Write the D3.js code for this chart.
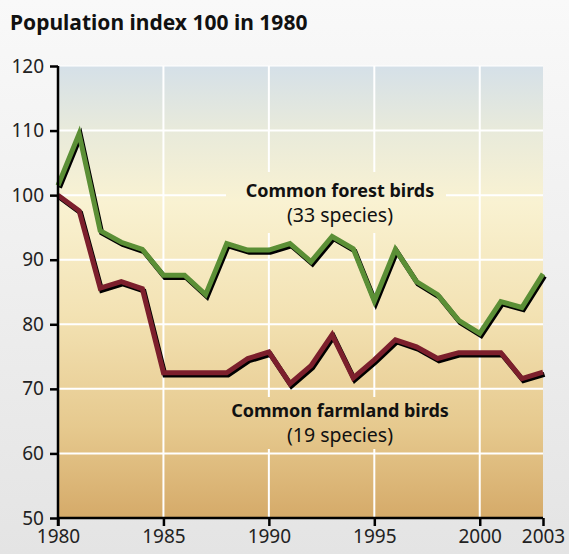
<!DOCTYPE html>
<html>
<head>
<meta charset="utf-8">
<script src="https://cdn.jsdelivr.net/npm/d3@7"></script>
<style>
  html, body { margin: 0; padding: 0; }
  body { width: 569px; height: 554px; overflow: hidden; }
  text { font-family: "Noto Sans", sans-serif; }
</style>
</head>
<body>
<svg id="chart" width="569" height="554"></svg>
<script>
"use strict";

const years = d3.range(1980, 2004);
const forestBirds = [101.5, 109.5, 94.5, 92.7, 91.6, 87.6, 87.6, 84.6, 92.5, 91.5, 91.5, 92.5,
  89.7, 93.6, 91.7, 83.6, 91.6, 86.6, 84.6, 80.6, 78.6, 83.5, 82.6, 87.8];
const farmlandBirds = [100, 97.6, 85.6, 86.6, 85.5, 72.5, 72.5, 72.5, 72.5, 74.7, 75.7, 70.8,
  73.6, 78.4, 71.7, 74.5, 77.6, 76.5, 74.7, 75.6, 75.6, 75.6, 71.6, 72.6];
const xTicks = [1980, 1985, 1990, 1995, 2000, 2003];
const yTicks = [50, 60, 70, 80, 90, 100, 110, 120];

const svg = d3.select("#chart");
const plotLeft = 58, plotRight = 543, plotTop = 66, plotBottom = 518;

const x = d3.scaleLinear().domain([1980, 2003]).range([plotLeft, plotRight]);
const y = d3.scaleLinear().domain([50, 120]).range([plotBottom, plotTop]);

const defs = svg.append("defs");

const bg = defs.append("linearGradient").attr("id", "bg")
  .attr("x1", 0).attr("y1", 0).attr("x2", 0).attr("y2", 1);
bg.append("stop").attr("offset", 0).attr("stop-color", "#f9f9f9");
bg.append("stop").attr("offset", 1).attr("stop-color", "#e4e4e4");

const plotFill = defs.append("linearGradient").attr("id", "plotFill")
  .attr("gradientUnits", "userSpaceOnUse")
  .attr("x1", 0).attr("y1", plotTop).attr("x2", 0).attr("y2", plotBottom);
[[0, "#d5e0e8"], [0.14, "#e8eadb"], [0.3, "#f9f2d2"], [0.55, "#f3e2b3"],
 [0.8, "#e6c98e"], [1, "#d5aa69"]].forEach(([o, c]) =>
  plotFill.append("stop").attr("offset", o).attr("stop-color", c));

svg.append("rect").attr("width", 569).attr("height", 554).attr("fill", "url(#bg)");

svg.append("text")
  .attr("x", 10).attr("y", 30)
  .attr("font-size", 21).attr("font-weight", "bold")
  .attr("font-family", "Liberation Sans, sans-serif")
  .attr("fill", "#111")
  .text("Population index 100 in 1980");

svg.append("rect")
  .attr("x", plotLeft).attr("y", plotTop)
  .attr("width", plotRight - plotLeft).attr("height", plotBottom - plotTop)
  .attr("fill", "url(#plotFill)");

// grid
svg.append("g").selectAll("line")
  .data(yTicks.slice(1))
  .join("line")
  .attr("x1", plotLeft).attr("x2", plotRight)
  .attr("y1", (d) => y(d)).attr("y2", (d) => y(d))
  .attr("stroke", "#fff").attr("stroke-width", 2)
  .attr("stroke-opacity", (d) => (d === 120 ? 0.5 : 1));

svg.append("g").selectAll("line")
  .data(xTicks.slice(1, -1))
  .join("line")
  .attr("x1", (d) => x(d)).attr("x2", (d) => x(d))
  .attr("y1", plotTop).attr("y2", plotBottom)
  .attr("stroke", "#fff").attr("stroke-width", 2);

// label boxes hide the grid behind them
const labelBoxes = [
  { x0: 226, x1: 446, y0: 172, y1: 233 },
  { x0: 224, x1: 456, y0: 397, y1: 449 }
];
svg.append("g").selectAll("rect")
  .data(labelBoxes)
  .join("rect")
  .attr("x", (d) => d.x0).attr("y", (d) => d.y0)
  .attr("width", (d) => d.x1 - d.x0).attr("height", (d) => d.y1 - d.y0)
  .attr("fill", "url(#plotFill)");

// lines
const line = d3.line()
  .x((d, i) => x(years[i]))
  .y((d) => y(d));

const series = [
  { values: forestBirds, color: "#5b8f36" },
  { values: farmlandBirds, color: "#7c1f2c" }
];

const lines = svg.append("g");
series.forEach((s) => {
  lines.append("path")
    .attr("d", line(s.values))
    .attr("transform", "translate(1.5,2.2)")
    .attr("fill", "none").attr("stroke", "#000")
    .attr("stroke-width", 5).attr("stroke-linejoin", "miter");
  lines.append("path")
    .attr("d", line(s.values))
    .attr("fill", "none").attr("stroke", s.color)
    .attr("stroke-width", 5).attr("stroke-linejoin", "miter");
});

// series labels
const labels = [
  { title: "Common forest birds", sub: "(33 species)", cx: 340, yT: 197, yS: 222 },
  { title: "Common farmland birds", sub: "(19 species)", cx: 340, yT: 417, yS: 442 }
];
labels.forEach((l) => {
  svg.append("text")
    .attr("x", l.cx).attr("y", l.yT)
    .attr("text-anchor", "middle")
    .attr("font-size", 18).attr("font-weight", "bold")
    .attr("fill", "#111")
    .text(l.title);
  svg.append("text")
    .attr("x", l.cx).attr("y", l.yS)
    .attr("text-anchor", "middle")
    .attr("font-size", 19.5)
    .attr("fill", "#111")
    .text(l.sub);
});

// axes
const yAxis = svg.append("g")
  .attr("transform", `translate(${plotLeft},0)`)
  .call(d3.axisLeft(y).tickValues(yTicks).tickSize(8).tickPadding(6));
const xAxis = svg.append("g")
  .attr("transform", `translate(0,${plotBottom})`)
  .call(d3.axisBottom(x).tickValues(xTicks).tickFormat(d3.format("d"))
    .tickSize(8).tickPadding(4));

[yAxis, xAxis].forEach((a) => {
  a.select(".domain").attr("stroke", "#000").attr("stroke-width", 2.5);
  a.selectAll(".tick line").attr("stroke", "#000").attr("stroke-width", 2.5);
  a.selectAll(".tick text")
    .attr("font-family", "Noto Sans, sans-serif")
    .attr("font-size", 19).attr("fill", "#222");
});
yAxis.select(".domain").attr("d", `M0,${plotTop}V${plotBottom + 8}`);
xAxis.select(".domain").attr("d", `M${plotLeft},0H${plotRight}`);
</script>
</body>
</html>
